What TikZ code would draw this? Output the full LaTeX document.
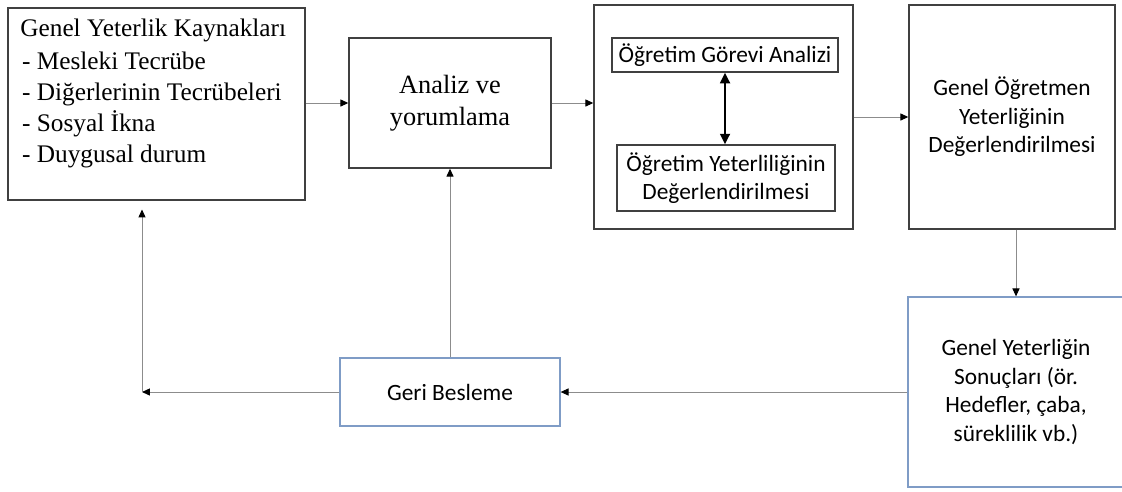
\documentclass[tikz,border=0pt]{standalone}
\usepackage{fontspec}
\setmainfont{Liberation Serif}
\newfontfamily\calibri{Carlito}
\usetikzlibrary{positioning,arrows.meta}
\definecolor{kenar}{HTML}{404040}
\definecolor{mavi}{HTML}{7F9CC6}
\definecolor{hat}{HTML}{8C8C8C}

\begin{document}
\begin{tikzpicture}[x=0.02cm,y=-0.02cm,
  kutu/.style={draw=kenar,line width=0.8pt,inner sep=0pt},
  mavikutu/.style={draw=mavi,line width=0.7pt,inner sep=0pt},
  serif/.style={font=\fontsize{15}{18.2}\selectfont,align=center},
  sans/.style={font=\calibri\fontsize{13.3}{16.2}\selectfont,align=center},
  ok/.style={draw=hat,line width=0.55pt,-{Triangle[length=4.5pt,width=4pt,color=black]}}]
  \useasboundingbox (0,0) rectangle (1122,491);

  % left source box, text set at top left
  \node[kutu,minimum width=297*0.02cm,minimum height=192*0.02cm] (kaynak) at (156.5,104) {};
  \node[anchor=north west,align=left,inner sep=0pt,font=\fontsize{14.4}{17.6}\selectfont]
    (kaynaktxt) at (20,19) {Genel Yeterlik Kaynakları\\[1pt]
      \hspace*{1pt}- Mesleki Tecrübe\\
      \hspace*{1pt}- Diğerlerinin Tecrübeleri\\
      \hspace*{1pt}- Sosyal İkna\\
      \hspace*{1pt}- Duygusal durum};

  % analysis box
  \node[kutu,serif,minimum width=202*0.02cm,minimum height=130*0.02cm] (analiz) at (450,103)
    {Analiz ve\\yorumlama};

  % outer box with the two inner ones
  \node[kutu,minimum width=259*0.02cm,minimum height=224*0.02cm] (dis) at (723.5,117) {};
  \node[kutu,sans,minimum width=226*0.02cm,minimum height=34*0.02cm] (gorev) at (725,55)
    {Öğretim Görevi Analizi};
  \node[kutu,sans,minimum width=218*0.02cm,minimum height=66*0.02cm] (yeterlilik) at (726,178)
    {Öğretim Yeterliliğinin\\Değerlendirilmesi};

  % right boxes
  \node[kutu,sans,minimum width=206*0.02cm,minimum height=224*0.02cm] (genel) at (1012,117)
    {Genel Öğretmen\\Yeterliğinin\\Değerlendirilmesi};
  \node[mavikutu,sans,minimum width=216*0.02cm,minimum height=190*0.02cm] (sonuc) at (1016,392)
    {Genel Yeterliğin\\Sonuçları (ör.\\Hedefler, çaba,\\süreklilik vb.)};
  \node[mavikutu,sans,minimum width=220*0.02cm,minimum height=68*0.02cm] (geri) at (450,392)
    {Geri Besleme};

  \coordinate (kose) at (142,392);

  % connectors
  \draw[ok] (kaynak.east |- 0,103) -- (analiz.west);
  \draw[ok] (analiz.east) -- (dis.west |- analiz.east);
  \draw[ok] (dis.east) -- (genel.west);
  \draw[ok] (genel.south -| sonuc.north) -- (sonuc.north);
  \draw[ok] (sonuc.west) -- (geri.east);
  \draw[ok] (geri.north) -- (analiz.south);
  \draw[ok] (geri.west) -- (kose);
  \draw[ok,shorten >=5pt] (kose) -- (kose |- kaynak.south);
  \draw[line width=1.6pt,{Triangle[length=6pt,width=5.5pt]}-{Triangle[length=6pt,width=5.5pt]}]
    (gorev.south) -- (gorev.south |- yeterlilik.north);
\end{tikzpicture}
\end{document}
